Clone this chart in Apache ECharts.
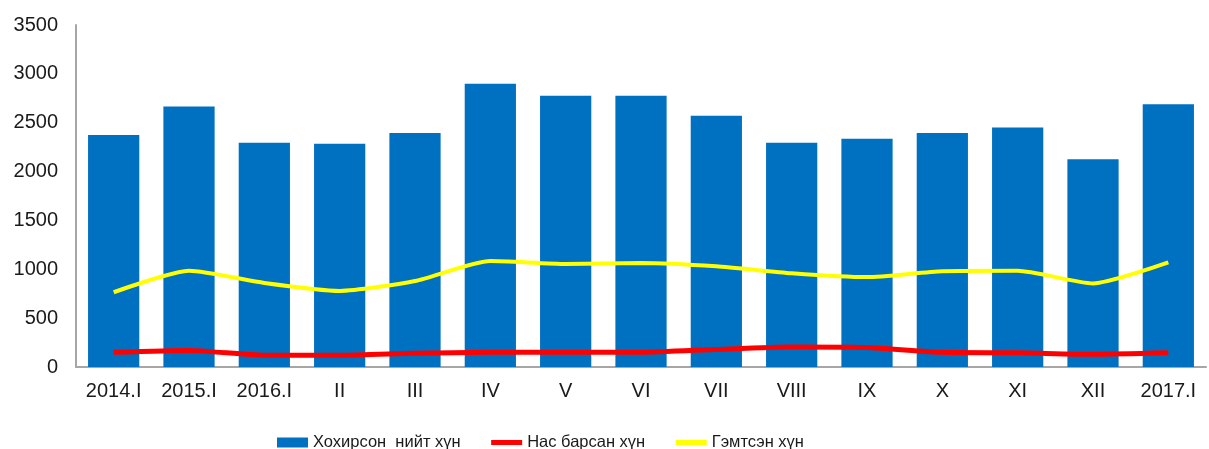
<!DOCTYPE html>
<html><head><meta charset="utf-8">
<script src="https://cdn.jsdelivr.net/npm/echarts@6/dist/echarts.min.js"></script>
<style>html,body{margin:0;padding:0;background:#fff}#c{width:1209px;height:449px}</style>
</head><body><div id="c"></div>
<script>
const categories = ['2014.I','2015.I','2016.I','II','III','IV','V','VI','VII','VIII','IX','X','XI','XII','2017.I'];
const totalVictims = [2375, 2665, 2295, 2285, 2395, 2900, 2775, 2775, 2570, 2295, 2335, 2395, 2450, 2125, 2690];
const deaths = [150, 170, 120, 120, 140, 150, 150, 150, 180, 205, 200, 150, 145, 130, 145];
const injured = [765, 985, 860, 778, 880, 1085, 1055, 1065, 1030, 960, 920, 980, 985, 855, 1070];
const seriesNames = ['Хохирсон  нийт хүн', 'Нас барсан хүн', 'Гэмтсэн хүн'];

const chart = echarts.init(document.getElementById('c'));
const font = 'Liberation Sans, Arial, sans-serif';
chart.setOption({
  animation: false,
  textStyle: {fontFamily: font},
  grid: {left: 76, right: 3, top: 25, bottom: 82, containLabel: false},
  legend: {
    top: 429, left: 272, itemGap: 28, itemWidth: 31, itemHeight: 10,
    textStyle: {fontSize: 16.5, color: '#1a1a1a', fontFamily: font},
    data: [
      {name: seriesNames[0], icon: 'rect'},
      {name: seriesNames[1], itemStyle: {opacity: 0}, lineStyle: {width: 5, color: '#ff0000'}},
      {name: seriesNames[2], itemStyle: {opacity: 0}, lineStyle: {width: 5, color: '#ffff00'}}
    ]
  },
  xAxis: {
    type: 'category', data: categories,
    axisLine: {lineStyle: {color: '#a6a6a6', width: 2}},
    axisTick: {show: false},
    axisLabel: {fontSize: 20, color: '#1a1a1a', margin: 14}
  },
  yAxis: {
    type: 'value', min: 0, max: 3500, interval: 500,
    axisLine: {show: true, lineStyle: {color: '#a6a6a6', width: 2}},
    axisTick: {show: false},
    splitLine: {show: false},
    axisLabel: {fontSize: 20, color: '#1a1a1a', margin: 18, formatter: v => String(v)}
  },
  series: [
    {name: seriesNames[0], type: 'bar', data: totalVictims, barWidth: '68%',
     itemStyle: {color: '#0070c0'}},
    {name: seriesNames[1], type: 'line', data: deaths, smooth: 0.2, symbol: 'none',
     lineStyle: {color: '#ff0000', width: 5}, itemStyle: {color: '#ff0000'}},
    {name: seriesNames[2], type: 'line', data: injured, smooth: 0.2, symbol: 'none',
     lineStyle: {color: '#ffff00', width: 4}, itemStyle: {color: '#ffff00'}}
  ]
});
</script></body></html>
